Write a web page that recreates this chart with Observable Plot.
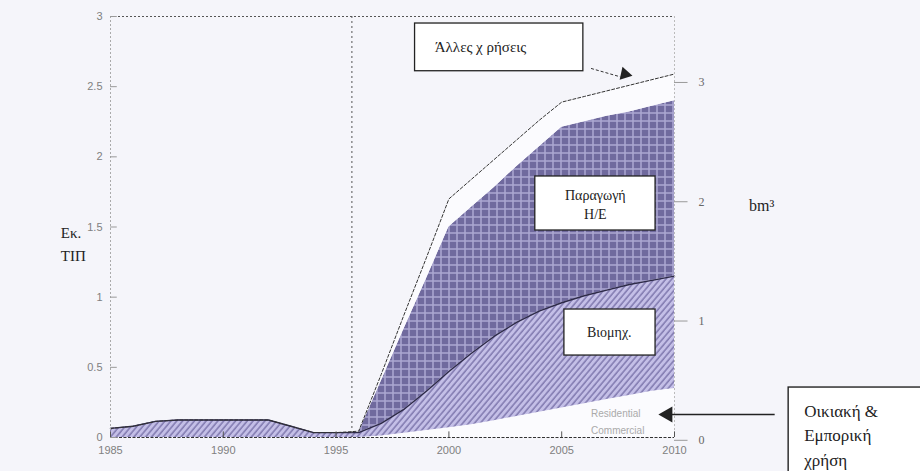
<!DOCTYPE html>
<html><head><meta charset="utf-8">
<script src="https://cdn.jsdelivr.net/npm/d3@7"></script>
<script src="https://cdn.jsdelivr.net/npm/@observablehq/plot@0.6"></script>
<style>
html,body{margin:0;padding:0;background:#f5f5fa;}
#chart{width:920px;height:471px;overflow:hidden;}
</style></head><body><div id="chart"></div>
<script>
// Natural gas demand (Mtoe), stacked by use
const years = [1985,1986,1987,1988,1989,1990,1991,1992,1993,1994,1995,1996,1997,1998,1999,2000,2001,2002,2003,2004,2005,2006,2007,2008,2009,2010];
const residential = [0,0,0,0,0,0,0,0,0,0,0,0,0.01,0.03,0.05,0.07,0.09,0.12,0.15,0.18,0.21,0.24,0.27,0.30,0.33,0.35];
const industry    = [0.065,0.08,0.115,0.125,0.125,0.125,0.125,0.125,0.08,0.035,0.035,0.035,0.09,0.17,0.28,0.40,0.51,0.60,0.67,0.72,0.75,0.77,0.78,0.79,0.79,0.80];
const power       = [0,0,0,0,0,0,0,0,0,0,0,0,0.30,0.57,0.80,1.03,1.04,1.06,1.11,1.17,1.25,1.24,1.24,1.23,1.24,1.25];
const other       = [0,0,0,0,0,0,0,0,0,0,0,0.01,0.05,0.10,0.15,0.20,0.20,0.20,0.19,0.19,0.18,0.18,0.18,0.19,0.19,0.19];
const seriesNames = ["Οικιακή & Εμπορική", "Βιομηχανία", "Παραγωγή Η/Ε", "Άλλες χρήσεις"];
const seriesFills = ["#fbfbfe", "url(#diag)", "url(#cross)", "#fbfbfe"];
const leftTicks = [0, 0.5, 1, 1.5, 2, 2.5, 3];
const rightTicks = [0, 1, 2, 3];          // bm³
const xTicks = [1985, 1990, 1995, 2000, 2005, 2010];
const gasStartYear = 1995.7;
// bm³ -> Mtoe conversion used for the right-hand axis
const bmSlope = 0.85, bmOffset = -0.02;

const seriesArrays = [residential, industry, power, other];
const long = [];
years.forEach((yr, i) => seriesNames.forEach((s, k) => long.push({year: yr, series: s, value: seriesArrays[k][i]})));
const totals = years.map((yr, i) => ({year: yr, v: residential[i] + industry[i] + power[i] + other[i]}));
const indTop = years.map((yr, i) => ({year: yr, v: residential[i] + industry[i]}));

const serif = "Liberation Serif";
const sans = "Liberation Sans";

const svg = Plot.plot({
  width: 920, height: 471,
  marginLeft: 110, marginRight: 246, marginTop: 16, marginBottom: 34,
  style: {background: "transparent", fontFamily: sans, fontSize: "11px", color: "#808080"},
  x: {domain: [1985, 2010]},
  y: {domain: [0, 3]},
  color: {domain: seriesNames, range: seriesFills},
  marks: [
    Plot.areaY(long, Plot.stackY({x: "year", y: "value", z: "series", fill: "series", order: seriesNames})),
    Plot.lineY(indTop, {x: "year", y: "v", stroke: "#2d2a48", strokeWidth: 1.4}),
    Plot.lineY(totals, {x: "year", y: "v", stroke: "#333", strokeWidth: 1, strokeDasharray: "3,2"}),
    // frame
    Plot.ruleY([3], {stroke: "#555", strokeDasharray: "2,2", strokeWidth: 1}),
    Plot.ruleY([0], {stroke: "#333", strokeDasharray: "3,1.5", strokeWidth: 1.2}),
    Plot.ruleX([1985], {stroke: "#aaa", strokeDasharray: "2,2"}),
    Plot.ruleX([2010], {stroke: "#bbb", strokeDasharray: "2,2"}),
    Plot.ruleX([gasStartYear], {stroke: "#555", strokeDasharray: "2,3", strokeWidth: 1}),
    // axes
    Plot.axisY({ticks: leftTicks, tickSize: 0, tickPadding: 8, tickFormat: d => String(d), fontSize: 11}),
    Plot.ruleY(leftTicks, {y: d => d, x1: 1985, x2: 1985.3, stroke: "#999"}),
    Plot.axisX({ticks: xTicks, tickSize: 0, tickPadding: 9, tickFormat: d => String(d), fontSize: 11}),
    Plot.ruleX(xTicks, {x: d => d, y1: 0, y2: 0.04, stroke: "#555"}),
    // right axis (bm³)
    Plot.ruleY(rightTicks, {y: d => bmOffset + d * bmSlope, x1: 2010, x2: 2010.6, stroke: "#999"}),
    Plot.text(rightTicks, {y: d => bmOffset + d * bmSlope, x: 2011.2, text: d => String(d), fontFamily: serif, fontSize: 12, fill: "#666"}),
    // axis titles
    Plot.text(["Εκ.\nΤΙΠ"], {x: 1982.8, y: 1.39, text: d => d, textAnchor: "start", lineHeight: 1.5, fontFamily: serif, fontSize: 15, fill: "#222"}),
    Plot.text(["bm³"], {x: 2013.3, y: 1.65, text: d => d, textAnchor: "start", fontFamily: serif, fontSize: 16, fill: "#222"}),
    // annotation: Άλλες χρήσεις
    Plot.rect([0], {x1: 1998.5, x2: 2005.96, y1: 2.95, y2: 2.61, fill: "white", stroke: "#222", strokeWidth: 1.3}),
    Plot.text(["Άλλες χ ρήσεις"], {x: 2001.4, y: 2.78, text: d => d, fontFamily: serif, fontSize: 15, fill: "#222"}),
    Plot.link([0], {x1: 2006.3, y1: 2.63, x2: 2007.6, y2: 2.57, stroke: "#333", strokeDasharray: "3,2"}),
    Plot.dot([0], {x: 2007.8, y: 2.59, symbol: "triangle", r: 5, fill: "#222", rotate: 102}),
    // annotation: Παραγωγή Η/Ε
    Plot.rect([0], {x1: 2003.83, x2: 2009.16, y1: 1.86, y2: 1.475, fill: "white", stroke: "#222", strokeWidth: 1.3}),
    Plot.text(["Παραγωγή\nΗ/Ε"], {x: 2006.49, y: 1.665, text: d => d, lineHeight: 1.35, fontFamily: serif, fontSize: 14, fill: "#222"}),
    // annotation: Βιομηχ.
    Plot.rect([0], {x1: 2005.12, x2: 2009.16, y1: 0.912, y2: 0.584, fill: "white", stroke: "#222", strokeWidth: 1.3}),
    Plot.text(["Βιομηχ."], {x: 2007.11, y: 0.748, text: d => d, fontFamily: serif, fontSize: 14, fill: "#222"}),
    // residential / commercial
    Plot.text(["Residential", "Commercial"], {x: 2006.3, y: (d, i) => i === 0 ? 0.17 : 0.05, text: d => d, textAnchor: "start", fontFamily: sans, fontSize: 10, fill: "#aaa"}),
    Plot.link([0], {x1: 2014.44, y1: 0.164, x2: 2009.8, y2: 0.164, stroke: "#222", strokeWidth: 1.6}),
    Plot.dot([0], {x: 2009.7, y: 0.164, symbol: "triangle", r: 6, fill: "#222", rotate: -90}),
    Plot.rect([0], {x1: 2015.06, x2: 2030, y1: 0.356, y2: -0.6, fill: "white", stroke: "#222", strokeWidth: 1.4}),
    Plot.text(["Οικιακή &\nΕμπορική\nχρήση"], {x: 2015.75, y: 0.03, text: d => d, textAnchor: "start", lineHeight: 1.45, fontFamily: serif, fontSize: 17, fill: "#222"})
  ]
});

const defs = d3.select(svg).insert("defs", ":first-child");
const cross = defs.append("pattern").attr("id", "cross").attr("patternUnits", "userSpaceOnUse").attr("width", 8).attr("height", 8);
cross.append("rect").attr("width", 8).attr("height", 8).attr("fill", "#706a9e");
cross.append("path").attr("d", "M0 1H8M1 0V8").attr("stroke", "#bebce3").attr("stroke-width", 1.5).attr("stroke-opacity", 0.75);
const diag = defs.append("pattern").attr("id", "diag").attr("patternUnits", "userSpaceOnUse").attr("width", 4.5).attr("height", 4.5).attr("patternTransform", "rotate(40)");
diag.append("rect").attr("width", 4.5).attr("height", 4.5).attr("fill", "#c4bfe7");
diag.append("path").attr("d", "M1 0V4.5").attr("stroke", "#7f78ae").attr("stroke-width", 1.5);

document.getElementById("chart").appendChild(svg);
</script>
</body></html>
